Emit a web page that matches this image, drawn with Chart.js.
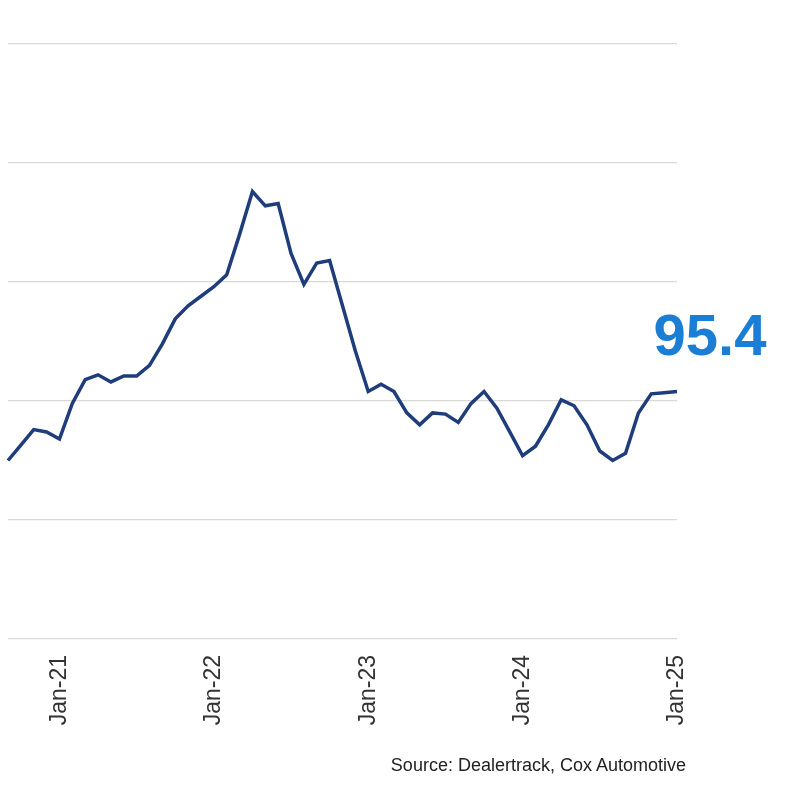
<!DOCTYPE html>
<html lang="en">
<head>
  <meta charset="UTF-8" />
  <title>Index</title>
  <script src="https://cdn.jsdelivr.net/npm/chart.js"></script>
  <style>
    body { margin: 0; background: #fff; font-family: 'Liberation Sans', Arial, sans-serif; }
    .wrap { position: relative; width: 800px; height: 800px; }
    .source { position: absolute; right: 114px; top: 755px; font-size: 18px; color: #222; }
  </style>
</head>
<body>
  <div class="wrap">
    <canvas id="chart" width="800" height="800"></canvas>
    <div class="source">Source: Dealertrack, Cox Automotive</div>
  </div>
  <script>
    const months = [
      'Sep-20','Oct-20','Nov-20','Dec-20',
      'Jan-21','Feb-21','Mar-21','Apr-21','May-21','Jun-21','Jul-21','Aug-21','Sep-21','Oct-21','Nov-21','Dec-21',
      'Jan-22','Feb-22','Mar-22','Apr-22','May-22','Jun-22','Jul-22','Aug-22','Sep-22','Oct-22','Nov-22','Dec-22',
      'Jan-23','Feb-23','Mar-23','Apr-23','May-23','Jun-23','Jul-23','Aug-23','Sep-23','Oct-23','Nov-23','Dec-23',
      'Jan-24','Feb-24','Mar-24','Apr-24','May-24','Jun-24','Jul-24','Aug-24','Sep-24','Oct-24','Nov-24','Dec-24',
      'Jan-25'
    ];
    const index = [
      92.5, 93.15, 93.8, 93.7,
      93.4, 94.9, 95.9, 96.1, 95.8, 96.05, 96.05, 96.5, 97.4, 98.45, 99.0, 99.4,
      99.8, 100.3, 102.0, 103.8, 103.2, 103.3, 101.2, 99.9, 100.8, 100.9, 99.0, 97.1,
      95.4, 95.7, 95.4, 94.5, 94.0, 94.5, 94.45, 94.1, 94.9, 95.4, 94.7, 93.7,
      92.7, 93.1, 94.0, 95.05, 94.8, 94.0, 92.9, 92.5, 92.8, 94.5, 95.3, 95.35,
      95.4
    ];
    const lastLabel = '95.4';

    // big value label next to the last point
    const lastValuePlugin = {
      id: 'lastValue',
      afterDatasetsDraw(chart) {
        const meta = chart.getDatasetMeta(0);
        const pt = meta.data[meta.data.length - 1];
        const ctx = chart.ctx;
        ctx.save();
        ctx.font = 'bold 58px "Liberation Sans", Arial, sans-serif';
        ctx.fillStyle = '#1a7fd4';
        ctx.textAlign = 'center';
        ctx.textBaseline = 'middle';
        ctx.fillText(lastLabel, pt.x + 33, pt.y - 52);
        ctx.restore();
      }
    };

    new Chart(document.getElementById('chart'), {
      type: 'line',
      data: {
        labels: months,
        datasets: [{
          data: index,
          borderColor: '#1f3d7a',
          borderWidth: 3.5,
          pointRadius: 0,
          tension: 0
        }]
      },
      options: {
        responsive: false,
        animation: false,
        layout: { padding: { left: -2, right: 123, top: 44, bottom: 0 } },
        plugins: { legend: { display: false }, tooltip: { enabled: false } },
        scales: {
          x: {
            offset: false,
            grid: { display: false },
            border: { display: false },
            afterFit(scale) { scale.height = 161; },
            ticks: {
              autoSkip: false,
              minRotation: 90,
              maxRotation: 90,
              padding: 8,
              color: '#333',
              font: { family: '"Liberation Sans", Arial, sans-serif', size: 23 },
              callback(value) {
                const l = this.getLabelForValue(value);
                return l.startsWith('Jan') ? l : '';
              }
            }
          },
          y: {
            min: 85,
            max: 110,
            afterFit(scale) { scale.width = 0; },
            border: { display: false },
            grid: { color: '#d9d9d9', lineWidth: 1.2, drawTicks: false },
            ticks: { display: false, stepSize: 5 }
          }
        }
      },
      plugins: [lastValuePlugin]
    });
  </script>
</body>
</html>
